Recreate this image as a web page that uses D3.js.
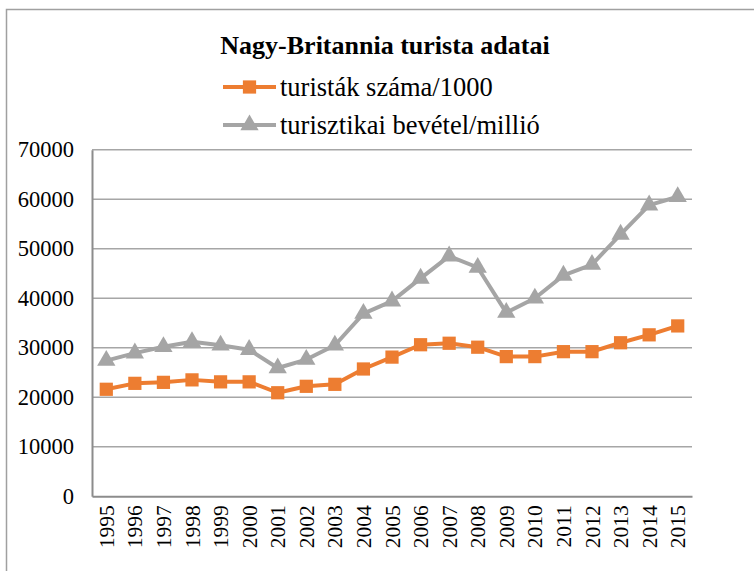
<!DOCTYPE html>
<html><head><meta charset="utf-8">
<script src="https://cdn.jsdelivr.net/npm/d3@7"></script>
<style>
html,body{margin:0;padding:0;background:#fff;}
svg{display:block;font-family:"Liberation Serif","Times New Roman",serif;}
</style></head>
<body><svg id="c" width="754" height="571"></svg>
<script>
const years = ["1995","1996","1997","1998","1999","2000","2001","2002","2003","2004","2005","2006","2007","2008","2009","2010","2011","2012","2013","2014","2015"];
const touristsPer1000 = [21600,22800,23000,23500,23100,23100,20900,22200,22600,25700,28100,30600,30900,30100,28200,28200,29200,29200,31000,32600,34400];
const revenueMillion = [27400,28900,30200,31200,30500,29600,25900,27600,30500,36900,39400,44000,48500,46200,37100,40000,44600,46800,52900,58800,60500];
const yTicks = [0,10000,20000,30000,40000,50000,60000,70000];
const title = "Nagy-Britannia turista adatai";
const seriesNames = ["turisták száma/1000","turisztikai bevétel/millió"];
const colors = ["#ED7D31","#A5A5A5"];
const FONT = "'Liberation Serif','Times New Roman',serif";

const svg = d3.select("#c");
svg.append("rect").attr("x",6.5).attr("y",9.5).attr("width",800).attr("height",600)
  .attr("fill","none").attr("stroke","#a0a0a0").attr("stroke-width",1.5);

const L=92, R=692, T=149.7, B=496.2;
const x = d3.scaleBand().domain(years).range([L,R]);
const y = d3.scaleLinear().domain([0,70000]).range([B,T]);

svg.append("g").selectAll("line").data(yTicks.filter(d=>d>0)).join("line")
  .attr("x1",L).attr("x2",R).attr("y1",d=>y(d)).attr("y2",d=>y(d))
  .attr("stroke","#a6a6a6").attr("stroke-width",1.5);

const ya = svg.append("g").attr("transform",`translate(${L},0)`)
  .call(d3.axisLeft(y).tickValues(yTicks).tickSize(0).tickPadding(18).tickFormat(d3.format("d")));
ya.select(".domain").attr("stroke","#8c8c8c").attr("stroke-width",2);
ya.selectAll("text").style("font-family",FONT).attr("font-size",22.5).attr("fill","#000");

const xa = svg.append("g").attr("transform",`translate(0,${B})`)
  .call(d3.axisBottom(x).tickSize(0).tickPadding(0));
xa.select(".domain").attr("stroke","#8c8c8c").attr("stroke-width",2);
xa.selectAll("text").style("font-family",FONT).attr("font-size",21.5).attr("fill","#000")
  .attr("transform","rotate(-90)").attr("text-anchor","end").attr("dy","0.35em").attr("x",-9).attr("y",0);

const cx = d => x(d)+x.bandwidth()/2;
const line = d3.line().x((d,i)=>cx(years[i])).y(d=>y(d));

const data = [touristsPer1000, revenueMillion];
[1,0].forEach(k=>{
  svg.append("path").datum(data[k]).attr("d",line).attr("fill","none")
    .attr("stroke",colors[k]).attr("stroke-width",4).attr("stroke-linejoin","round");
});
const sq = d3.symbol().type(d3.symbolSquare).size(175);
const tri = d3.symbol().type(d3.symbolTriangle).size(145);
svg.append("g").selectAll("path").data(revenueMillion).join("path")
  .attr("transform",(d,i)=>`translate(${cx(years[i])},${y(d)})`).attr("d",tri).attr("fill",colors[1]);
svg.append("g").selectAll("path").data(touristsPer1000).join("path")
  .attr("transform",(d,i)=>`translate(${cx(years[i])},${y(d)})`).attr("d",sq).attr("fill",colors[0]);

svg.append("text").attr("x",385).attr("y",54).attr("text-anchor","middle")
  .style("font-family",FONT).attr("font-weight","bold").attr("font-size",26).text(title);

const legY=[87,125];
seriesNames.forEach((n,k)=>{
  const g = svg.append("g");
  g.append("line").attr("x1",223).attr("x2",276).attr("y1",legY[k]).attr("y2",legY[k])
    .attr("stroke",colors[k]).attr("stroke-width",4);
  g.append("path").attr("transform",`translate(249.5,${legY[k]})`).attr("d",k===0?sq:tri).attr("fill",colors[k]);
  g.append("text").attr("x",280).attr("y",legY[k]).attr("dy","0.35em")
    .style("font-family",FONT).attr("font-size",26.5).text(n);
});
</script></body></html>
